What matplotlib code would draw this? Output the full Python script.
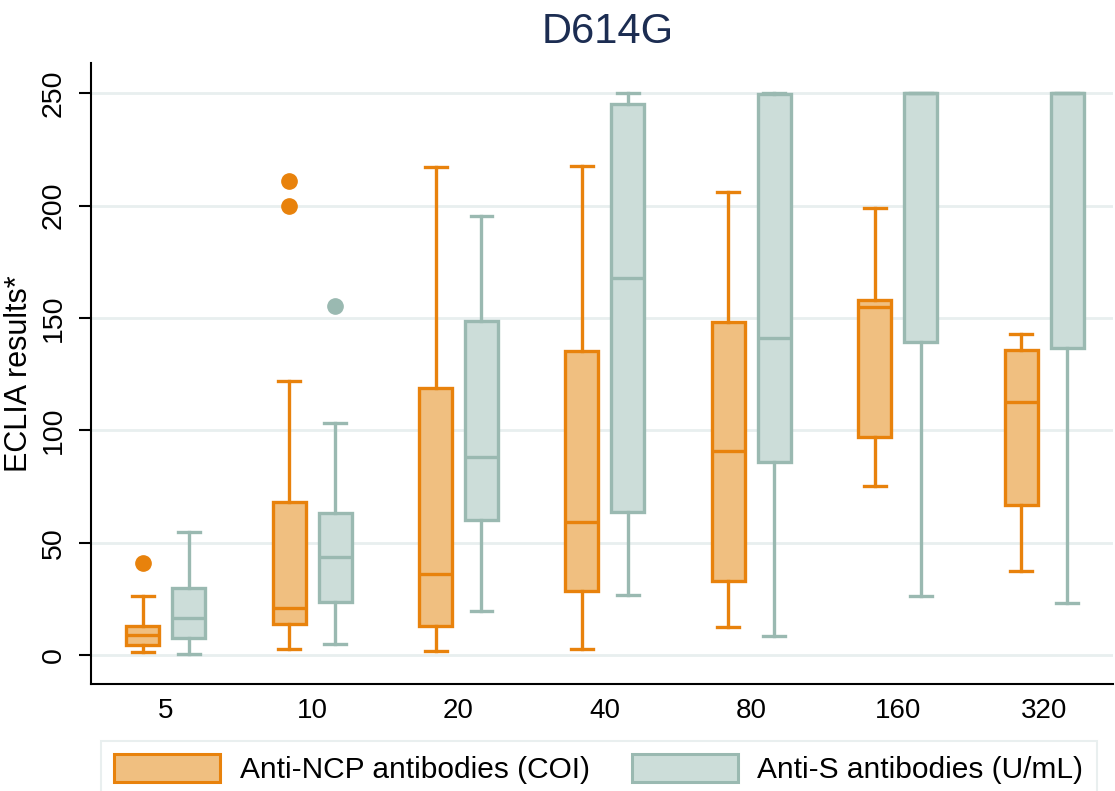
import matplotlib
matplotlib.use("Agg")
import matplotlib.pyplot as plt
from matplotlib.patches import Patch

plt.rcParams['font.family'] = ['Liberation Sans', 'DejaVu Sans']

# dilutions on the x axis
dilutions = ["5", "10", "20", "40", "80", "160", "320"]

# Anti-NCP antibodies (COI): whisker low, Q1, median, Q3, whisker high
ncp_lo = [1.3, 2.5, 1.8, 2.5, 12.4, 75.4, 37.4]
ncp_q1 = [4.4, 13.8, 12.7, 28.7, 32.9, 97.2, 66.7]
ncp_med = [8.7, 21.1, 36.0, 59.2, 90.7, 155.0, 112.5]
ncp_q3 = [13.1, 68.2, 118.8, 135.2, 148.3, 158.2, 135.9]
ncp_hi = [26.4, 122.0, 217.1, 217.7, 205.9, 198.9, 143.0]
ncp_out = [[40.8], [200.0, 211.0], [], [], [], [], []]

# Anti-S antibodies (U/mL)
s_lo = [0.5, 4.7, 19.5, 26.9, 8.5, 26.3, 23.0]
s_q1 = [7.5, 23.5, 60.2, 63.8, 86.1, 139.4, 136.8]
s_med = [16.6, 43.5, 88.1, 167.7, 141.0, 250.0, 250.0]
s_q3 = [29.7, 63.0, 148.7, 245.3, 249.5, 250.0, 250.0]
s_hi = [54.6, 103.2, 195.3, 250.0, 250.0, 250.0, 250.0]
s_out = [[], [155.2], [], [], [], [], []]

orange_edge = "#E8820C"
orange_fill = "#F0BF80"
grey_edge = "#9AB9B1"
grey_fill = "#CCDDD9"


def make_stats(lo, q1, med, q3, hi, out):
    stats = []
    for i in range(len(lo)):
        stats.append({"whislo": lo[i], "q1": q1[i], "med": med[i],
                      "q3": q3[i], "whishi": hi[i], "fliers": out[i]})
    return stats


fig = plt.figure(figsize=(11.15, 7.91), dpi=100)
ax = fig.add_axes([91 / 1115, 1 - 684 / 791, 1022 / 1115, (684 - 63) / 791])

ax.grid(axis="y", color="#E8EFEF", linewidth=2)
ax.set_axisbelow(True)

pos = range(len(dilutions))
off = 0.157
for stats, shift, ec, fc in [
    (make_stats(ncp_lo, ncp_q1, ncp_med, ncp_q3, ncp_hi, ncp_out), -off, orange_edge, orange_fill),
    (make_stats(s_lo, s_q1, s_med, s_q3, s_hi, s_out), off, grey_edge, grey_fill),
]:
    ax.bxp(stats, positions=[p + shift for p in pos], widths=0.225,
           capwidths=0.15, patch_artist=True,
           boxprops=dict(facecolor=fc, edgecolor=ec, linewidth=2.4),
           medianprops=dict(color=ec, linewidth=2.4),
           whiskerprops=dict(color=ec, linewidth=2.4),
           capprops=dict(color=ec, linewidth=2.4),
           flierprops=dict(marker="o", markerfacecolor=ec, markeredgecolor=ec,
                           markersize=11))

ax.set_xlim(-0.51, 6.47)
ax.set_ylim(-12.9, 263.5)
ax.set_xticks(list(pos))
ax.set_xticklabels(dilutions)
ax.set_yticks([0, 50, 100, 150, 200, 250])
ax.tick_params(axis="x", length=0, pad=10, labelsize=20)
ax.tick_params(axis="y", length=8.5, width=1.5, pad=9, labelsize=20.5,
               labelrotation=90)
for lab in ax.get_yticklabels():
    lab.set_verticalalignment("center")
ax.spines["top"].set_visible(False)
ax.spines["right"].set_visible(False)
ax.spines["left"].set_linewidth(1.5)
ax.spines["bottom"].set_linewidth(1.5)

ax.set_ylabel("ECLIA results*", fontsize=22)
ax.yaxis.set_label_coords((34 - 91) / 1022, 0.5)
fig.text(608 / 1115, 1 - 32 / 791, "D614G", fontsize=30, color="#1C2D52",
         ha="center", va="center")

handles = [Patch(facecolor=orange_fill, edgecolor=orange_edge, linewidth=2.2),
           Patch(facecolor=grey_fill, edgecolor=grey_edge, linewidth=2.2)]
leg = fig.legend(handles, ["Anti-NCP antibodies (COI)", "Anti-S antibodies (U/mL)"],
                 loc="upper left", bbox_to_anchor=(101 / 1115, 1 - 741 / 791),
                 ncol=2, fontsize=21.5, frameon=True, fancybox=False,
                 handlelength=3.55, handleheight=1.05, handletextpad=0.65,
                 columnspacing=1.4, borderpad=0.45, borderaxespad=0)
leg.get_frame().set_edgecolor("#E4EBEB")
leg.get_frame().set_linewidth(1.5)

fig.savefig("out.png", dpi=100)
